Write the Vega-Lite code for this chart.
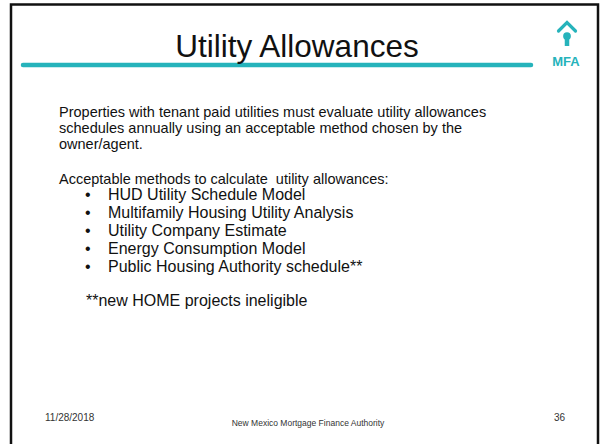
{
  "$schema": "https://vega.github.io/schema/vega-lite/v6.json",
  "width": 600,
  "height": 444,
  "padding": 0,
  "autosize": {"type": "none"},
  "background": "white",
  "config": {"view": {"stroke": null}, "text": {"font": "Liberation Sans"}},
  "datasets": {
    "frame": [{"x1": 11, "y1": 4.5, "x2": 598, "y2": 460}],
    "underline": [{"x1": 23, "x2": 531, "y": 65}],
    "chevron": [{"x": 558.5, "y": 31, "o": 0}, {"x": 567, "y": 22.5, "o": 1}, {"x": 575.5, "y": 31, "o": 2}],
    "keyhole": [{"x": 567, "y": 36}],
    "stem": [{"x": 567, "y1": 36, "y2": 46}],
    "mfa": [{"x": 566, "y": 66, "t": "MFA"}],
    "title": [{"x": 297, "y": 56.5, "t": "Utility Allowances"}],
    "body": [
      {"x": 59, "y": 117, "t": "Properties with tenant paid utilities must evaluate utility allowances"},
      {"x": 59, "y": 133, "t": "schedules annually using an acceptable method chosen by the"},
      {"x": 59, "y": 149, "t": "owner/agent."},
      {"x": 59, "y": 184, "t": "Acceptable methods to calculate\u00a0 utility allowances:"}
    ],
    "note": [{"x": 86, "y": 306, "t": "**new HOME projects ineligible"}],
    "bullets": [
      {"y": 200, "t": "HUD Utility Schedule Model"},
      {"y": 218, "t": "Multifamily Housing Utility Analysis"},
      {"y": 236, "t": "Utility Company Estimate"},
      {"y": 254, "t": "Energy Consumption Model"},
      {"y": 272, "t": "Public Housing Authority schedule**"}
    ],
    "footer": [
      {"x": 45, "y": 421, "t": "11/28/2018"},
      {"x": 554, "y": 421, "t": "36"}
    ],
    "centerfoot": [{"x": 308, "y": 426, "t": "New Mexico Mortgage Finance Authority"}]
  },
  "layer": [
    {
      "data": {"name": "frame"},
      "mark": {"type": "rect", "fill": null, "stroke": "#111111", "strokeWidth": 2.5, "clip": true},
      "encoding": {
        "x": {"field": "x1", "type": "quantitative", "scale": {"domain": [0, 600], "nice": false, "zero": false}, "axis": null},
        "x2": {"field": "x2"},
        "y": {"field": "y1", "type": "quantitative", "scale": {"domain": [0, 444], "nice": false, "zero": false, "reverse": true}, "axis": null},
        "y2": {"field": "y2"}
      }
    },
    {
      "data": {"name": "underline"},
      "mark": {"type": "rule", "color": "#26b3bb", "strokeWidth": 4.5, "strokeCap": "round"},
      "encoding": {
        "x": {"field": "x1", "type": "quantitative"},
        "x2": {"field": "x2"},
        "y": {"field": "y", "type": "quantitative"}
      }
    },
    {
      "data": {"name": "chevron"},
      "mark": {"type": "line", "color": "#26b3bb", "strokeWidth": 3.2, "strokeCap": "round", "strokeJoin": "miter"},
      "encoding": {
        "x": {"field": "x", "type": "quantitative"},
        "y": {"field": "y", "type": "quantitative"},
        "order": {"field": "o"}
      }
    },
    {
      "data": {"name": "stem"},
      "mark": {"type": "rule", "color": "#26b3bb", "strokeWidth": 4.5},
      "encoding": {
        "x": {"field": "x", "type": "quantitative"},
        "y": {"field": "y1", "type": "quantitative"},
        "y2": {"field": "y2"}
      }
    },
    {
      "data": {"name": "keyhole"},
      "mark": {"type": "point", "shape": "circle", "filled": true, "color": "#26b3bb", "opacity": 1, "size": 60},
      "encoding": {
        "x": {"field": "x", "type": "quantitative"},
        "y": {"field": "y", "type": "quantitative"}
      }
    },
    {
      "data": {"name": "mfa"},
      "mark": {"type": "text", "align": "center", "baseline": "alphabetic", "fontSize": 13, "fontWeight": "bold", "color": "#26b3bb"},
      "encoding": {
        "x": {"field": "x", "type": "quantitative"},
        "y": {"field": "y", "type": "quantitative"},
        "text": {"field": "t"}
      }
    },
    {
      "data": {"name": "title"},
      "mark": {"type": "text", "align": "center", "baseline": "alphabetic", "fontSize": 31.5, "color": "#111111"},
      "encoding": {
        "x": {"field": "x", "type": "quantitative"},
        "y": {"field": "y", "type": "quantitative"},
        "text": {"field": "t"}
      }
    },
    {
      "data": {"name": "body"},
      "mark": {"type": "text", "align": "left", "baseline": "alphabetic", "fontSize": 14.5, "color": "#111111"},
      "encoding": {
        "x": {"field": "x", "type": "quantitative"},
        "y": {"field": "y", "type": "quantitative"},
        "text": {"field": "t"}
      }
    },
    {
      "data": {"name": "note"},
      "mark": {"type": "text", "align": "left", "baseline": "alphabetic", "fontSize": 16, "color": "#111111"},
      "encoding": {
        "x": {"field": "x", "type": "quantitative"},
        "y": {"field": "y", "type": "quantitative"},
        "text": {"field": "t"}
      }
    },
    {
      "data": {"name": "bullets"},
      "mark": {"type": "text", "align": "left", "baseline": "alphabetic", "fontSize": 16, "color": "#111111", "dx": 108},
      "encoding": {
        "x": {"datum": 0, "type": "quantitative"},
        "y": {"field": "y", "type": "quantitative"},
        "text": {"field": "t"}
      }
    },
    {
      "data": {"name": "bullets"},
      "mark": {"type": "text", "align": "left", "baseline": "alphabetic", "fontSize": 16, "color": "#111111", "dx": 85, "text": "•"},
      "encoding": {
        "x": {"datum": 0, "type": "quantitative"},
        "y": {"field": "y", "type": "quantitative"}
      }
    },
    {
      "data": {"name": "footer"},
      "mark": {"type": "text", "align": "left", "baseline": "alphabetic", "fontSize": 10, "color": "#333333"},
      "encoding": {
        "x": {"field": "x", "type": "quantitative"},
        "y": {"field": "y", "type": "quantitative"},
        "text": {"field": "t"}
      }
    },
    {
      "data": {"name": "centerfoot"},
      "mark": {"type": "text", "align": "center", "baseline": "alphabetic", "fontSize": 8.5, "color": "#333333"},
      "encoding": {
        "x": {"field": "x", "type": "quantitative"},
        "y": {"field": "y", "type": "quantitative"},
        "text": {"field": "t"}
      }
    }
  ]
}
